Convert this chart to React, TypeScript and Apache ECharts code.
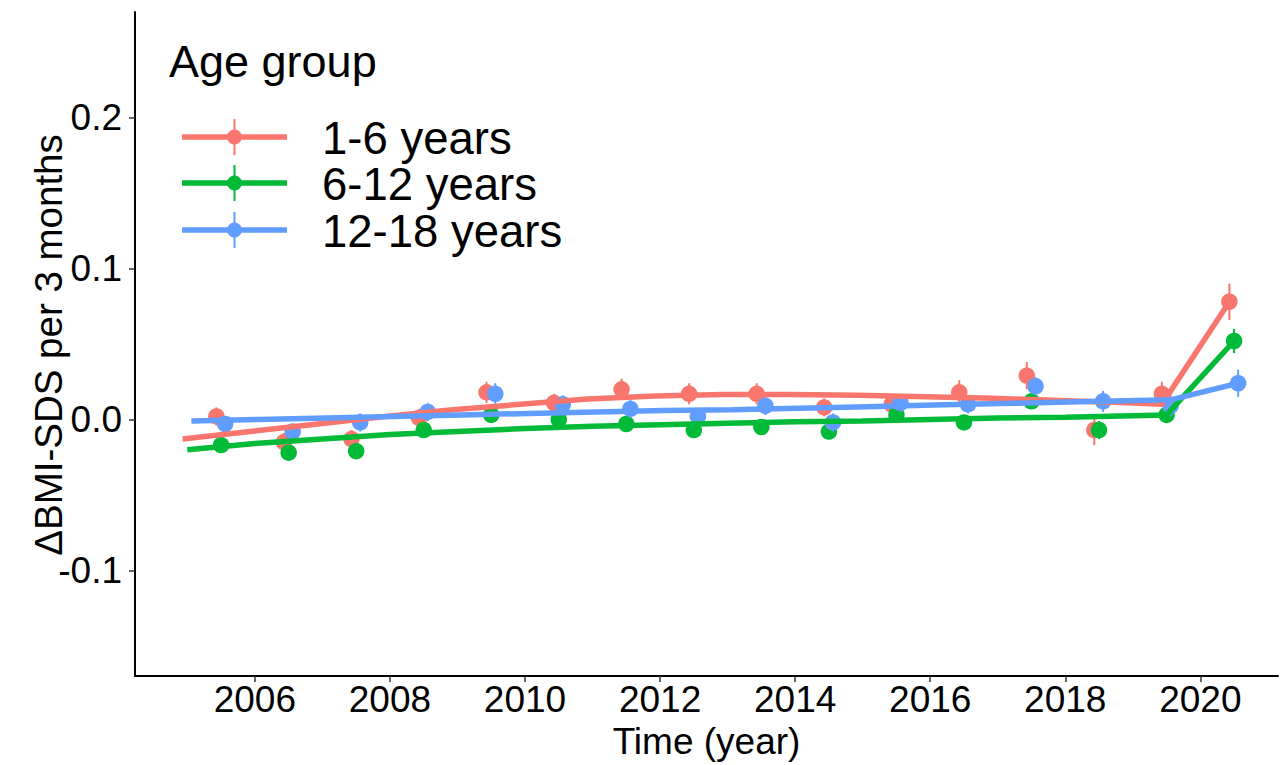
import React, { useEffect, useRef } from "react";
import * as echarts from "echarts";

// Age groups and their colours
const groups = ["1-6 years", "6-12 years", "12-18 years"];
const colors = ["#F8766D", "#00BA38", "#619CFF"];
// horizontal dodge (years) so the three groups do not overlap
const dodge = [-0.07, 0, 0.06];

// Yearly estimates, plotted at mid-year
const years = [
  2005.5, 2006.5, 2007.5, 2008.5, 2009.5, 2010.5, 2011.5, 2012.5,
  2013.5, 2014.5, 2015.5, 2016.5, 2017.5, 2018.5, 2019.5, 2020.5,
];
const est16 = [0.002, -0.015, -0.013, 0.001, 0.018, 0.011, 0.020, 0.017, 0.017, 0.008, 0.010, 0.018, 0.029, -0.007, 0.017, 0.078];
const est612 = [-0.017, -0.022, -0.021, -0.007, 0.003, 0.000, -0.003, -0.007, -0.005, -0.008, 0.003, -0.002, 0.012, -0.007, 0.003, 0.052];
const est1218 = [-0.003, -0.008, -0.002, 0.005, 0.017, 0.010, 0.007, 0.002, 0.009, -0.002, 0.011, 0.010, 0.022, 0.012, 0.009, 0.024];

// Half-width of the uncertainty interval of each estimate
const err16 = [0.006, 0.006, 0.006, 0.006, 0.007, 0.006, 0.007, 0.007, 0.007, 0.006, 0.006, 0.008, 0.009, 0.010, 0.008, 0.012];
const err612 = [0.004, 0.004, 0.004, 0.004, 0.004, 0.004, 0.004, 0.004, 0.005, 0.004, 0.004, 0.004, 0.005, 0.006, 0.005, 0.008];
const err1218 = [0.005, 0.005, 0.006, 0.006, 0.007, 0.006, 0.006, 0.006, 0.006, 0.006, 0.006, 0.006, 0.006, 0.007, 0.007, 0.009];

// Fitted trend curves
const fitYears = [
  2005, 2006, 2007, 2008, 2009, 2010, 2011, 2012, 2013, 2014, 2015,
  2016, 2017, 2018, 2019, 2019.5, 2020.5,
];
const fit16 = [-0.013, -0.008, -0.003, 0.002, 0.0065, 0.010, 0.0135, 0.0155, 0.0165, 0.0165, 0.016, 0.015, 0.014, 0.0125, 0.011, 0.010, 0.078];
const fit612 = [-0.020, -0.016, -0.013, -0.010, -0.008, -0.006, -0.0045, -0.0035, -0.0025, -0.0015, -0.001, 0.000, 0.001, 0.0015, 0.0025, 0.003, 0.052];
const fit1218 = [-0.001, 0.000, 0.001, 0.002, 0.003, 0.004, 0.005, 0.006, 0.0065, 0.0075, 0.0085, 0.0095, 0.0105, 0.0115, 0.0125, 0.013, 0.024];

const xTicks = [2006, 2008, 2010, 2012, 2014, 2016, 2018, 2020];
const yTicks = [-0.1, 0.0, 0.1, 0.2];

const estimates = [est16, est612, est1218];
const errors = [err16, err612, err1218];
const fits = [fit16, fit612, fit1218];

const FONT = "'Liberation Sans', Arial, Helvetica, sans-serif";

export default function App() {
  const ref = useRef<HTMLDivElement>(null);

  useEffect(() => {
    if (!ref.current) return;
    const chart = echarts.init(ref.current, undefined, { renderer: "svg" });

    const series: any[] = [];

    // error bars (drawn first, underneath everything)
    groups.forEach((g, i) => {
      series.push({
        name: g + " interval",
        type: "custom",
        data: years.map((x, k) => [
          x + dodge[i],
          estimates[i][k] - errors[i][k],
          estimates[i][k] + errors[i][k],
        ]),
        encode: { x: 0, y: [1, 2] },
        renderItem: (_params: any, api: any) => {
          const p1 = api.coord([api.value(0), api.value(1)]);
          const p2 = api.coord([api.value(0), api.value(2)]);
          return {
            type: "line",
            shape: { x1: p1[0], y1: p1[1], x2: p2[0], y2: p2[1] },
            style: { stroke: colors[i], lineWidth: 2 },
          };
        },
        z: 2 + i,
        silent: true,
      });
    });

    // point estimates
    groups.forEach((g, i) => {
      series.push({
        name: g + " estimate",
        type: "scatter",
        data: years.map((x, k) => [x + dodge[i], estimates[i][k]]),
        symbol: "circle",
        symbolSize: 16.5,
        itemStyle: { color: colors[i], opacity: 1 },
        z: 2 + i,
        silent: true,
      });
    });

    // trend lines, on top of the points
    groups.forEach((g, i) => {
      series.push({
        name: g,
        type: "line",
        data: fitYears.map((x, k) => [x + dodge[i], fits[i][k]]),
        showSymbol: false,
        symbol: "none",
        lineStyle: { color: colors[i], width: 5.5 },
        z: 6 + i,
        silent: true,
      });
    });

    // legend drawn as graphic elements
    const legendX0 = 182;
    const legendX1 = 287;
    const legendRows = [137, 183, 230];
    const legendGraphics: any[] = [
      {
        type: "text",
        left: 169,
        top: 39,
        style: {
          text: "Age group",
          font: `45px ${FONT}`,
          fill: "#000",
        },
      },
    ];
    groups.forEach((g, i) => {
      const y = legendRows[i];
      const cx = (legendX0 + legendX1) / 2;
      legendGraphics.push(
        {
          type: "line",
          shape: { x1: legendX0, y1: y, x2: legendX1, y2: y },
          style: { stroke: colors[i], lineWidth: 5.5 },
        },
        {
          type: "line",
          shape: { x1: cx, y1: y - 18, x2: cx, y2: y + 18 },
          style: { stroke: colors[i], lineWidth: 2 },
        },
        {
          type: "circle",
          shape: { cx, cy: y, r: 7.5 },
          style: { fill: colors[i] },
        },
        {
          type: "text",
          x: 322,
          y: y + 1,
          style: {
            text: g,
            font: `45.5px ${FONT}`,
            fill: "#000",
            verticalAlign: "middle",
            align: "left",
          },
        }
      );
    });

    // y axis title
    legendGraphics.push({
      type: "text",
      x: 48,
      y: 345,
      rotation: Math.PI / 2,
      style: {
        text: "ΔBMI-SDS per 3 months",
        font: `38.5px ${FONT}`,
        fill: "#000",
        align: "center",
        verticalAlign: "middle",
      },
    });

    chart.setOption({
      animation: false,
      backgroundColor: "#fff",
      grid: { left: 135, right: 2, top: 12, bottom: 88, containLabel: false },
      xAxis: {
        type: "value",
        min: 2004.225,
        max: 2021.15,
        splitLine: { show: false },
        axisLine: { show: true, onZero: false, lineStyle: { color: "#000", width: 2 } },
        axisTick: {
          show: true,
          customValues: xTicks,
          length: 6,
          lineStyle: { color: "#333", width: 1.5 },
        },
        axisLabel: {
          customValues: xTicks,
          formatter: (v: number) => String(Math.round(v)),
          fontSize: 37,
          fontFamily: FONT,
          color: "#000",
          margin: 5,
        },
        name: "Time (year)",
        nameLocation: "middle",
        nameGap: 47,
        nameTextStyle: { fontSize: 37, fontFamily: FONT, color: "#000", verticalAlign: "top" },
      },
      yAxis: {
        type: "value",
        min: -0.17,
        max: 0.27,
        splitLine: { show: false },
        axisLine: { show: true, onZero: false, lineStyle: { color: "#000", width: 2 } },
        axisTick: {
          show: true,
          customValues: yTicks,
          length: 6,
          lineStyle: { color: "#333", width: 1.5 },
        },
        axisLabel: {
          customValues: yTicks,
          formatter: (v: number) => v.toFixed(1),
          fontSize: 37,
          fontFamily: FONT,
          color: "#000",
          margin: 13,
        },
      },
      graphic: legendGraphics,
      series,
    });

    return () => chart.dispose();
  }, []);

  return (
    <div
      ref={ref}
      style={{ width: 1280, height: 765, position: "absolute", left: 0, top: 0 }}
    />
  );
}
